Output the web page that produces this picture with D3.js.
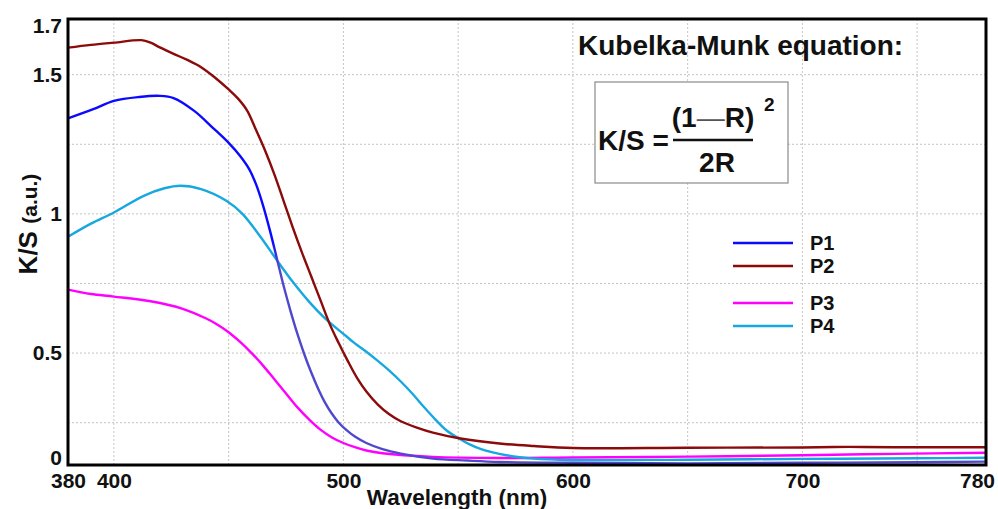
<!DOCTYPE html>
<html>
<head>
<meta charset="utf-8">
<script src="https://cdn.jsdelivr.net/npm/d3@7"></script>
<style>
  html, body { margin: 0; padding: 0; background: #fff; }
  svg { display: block; font-family: "Liberation Sans", Arial, sans-serif; }
</style>
</head>
<body>
<svg id="chart" width="998" height="509"></svg>
<script>
// ---------------- data ----------------
const seriesNames = ["P1", "P2", "P3", "P4"];
const seriesColors = ["#0a0aff", "#8b0a0a", "#ff00ff", "#17a8e0"];

const p1 = [[380,1.343],[391,1.376],[400,1.406],[411,1.420],[420,1.424],[426,1.416],[435,1.370],[443,1.310],[450,1.255],[455,1.208],[459,1.160],[462,1.105],[465,1.030],[468,0.940],[471,0.840],[474,0.740],[477,0.650],[480,0.568],[483,0.495],[486,0.430],[489,0.372],[492,0.322],[495,0.282],[498,0.250],[501,0.226],[505,0.200],[510,0.177],[517,0.155],[525,0.139],[539,0.121],[554,0.114],[568,0.109],[600,0.106],[650,0.104],[700,0.106],[750,0.108],[780,0.110]];
const p2 = [[380,1.597],[390,1.607],[400,1.615],[412,1.624],[416,1.615],[420,1.598],[426,1.575],[432,1.553],[438,1.527],[444,1.490],[450,1.447],[454,1.415],[458,1.372],[462,1.300],[466,1.225],[470,1.140],[474,1.045],[478,0.950],[482,0.860],[486,0.775],[490,0.690],[494,0.605],[498,0.535],[502,0.470],[506,0.410],[510,0.362],[515,0.315],[520,0.280],[525,0.255],[532,0.232],[539,0.214],[551,0.193],[568,0.175],[583,0.166],[600,0.159],[650,0.160],[700,0.161],[720,0.163],[740,0.162],[780,0.162]];
const p3 = [[380,0.728],[390,0.712],[400,0.703],[416,0.686],[430,0.659],[440,0.625],[445,0.603],[450,0.575],[455,0.540],[460,0.500],[465,0.455],[470,0.405],[475,0.355],[480,0.305],[485,0.262],[490,0.225],[495,0.197],[500,0.177],[505,0.162],[510,0.150],[517,0.140],[539,0.127],[568,0.123],[600,0.125],[650,0.128],[700,0.133],[740,0.138],[780,0.142]];
const p4 = [[380,0.918],[390,0.965],[400,1.005],[413,1.065],[422,1.092],[429,1.101],[438,1.089],[449,1.047],[456,1.000],[464,0.916],[471,0.834],[478,0.755],[485,0.685],[492,0.625],[500,0.569],[505,0.535],[510,0.505],[515,0.472],[520,0.437],[525,0.398],[530,0.355],[535,0.307],[540,0.262],[545,0.222],[550,0.195],[555,0.172],[560,0.155],[571,0.133],[583,0.121],[600,0.116],[650,0.117],[700,0.120],[750,0.122],[780,0.124]];
const seriesValues = [p1, p2, p3, p4];

const xTicks = [380, 400, 500, 600, 700, 780];
const xGrid = [400, 450, 500, 550, 600, 650, 700, 750];
const yTicks = [0.1, 0.5, 1, 1.5, 1.7];
const yTickLabels = ["0", "0.5", "1", "1.5", "1.7"];
const yGrid = [0.25, 0.5, 0.75, 1, 1.25, 1.5];
const xDomain = [380, 780];
const yDomain = [0.098, 1.7];

// ---------------- layout ----------------
const W = 998, H = 509;
const margin = {left: 68, right: 12, top: 19, bottom: 44};
const svg = d3.select("#chart");
const x = d3.scaleLinear().domain(xDomain).range([margin.left, W - margin.right]);
const y = d3.scaleLinear().domain(yDomain).range([H - margin.bottom, margin.top]);

// gradient for P1 (blue turning slate-blue in its lower part)
const defs = svg.append("defs");
const grad = defs.append("linearGradient").attr("id", "p1grad")
  .attr("gradientUnits", "userSpaceOnUse")
  .attr("x1", 0).attr("x2", 0).attr("y1", y(0.9)).attr("y2", y(0.82));
grad.append("stop").attr("offset", 0).attr("stop-color", "#0a0aff");
grad.append("stop").attr("offset", 1).attr("stop-color", "#5048cc");

// grid
const grid = svg.append("g").attr("stroke", "#c4c4c4").attr("stroke-width", 1).attr("stroke-dasharray", "2,2");
grid.selectAll("line.v").data(xGrid).join("line")
  .attr("x1", d => x(d)).attr("x2", d => x(d))
  .attr("y1", y.range()[0]).attr("y2", y.range()[1]);
grid.selectAll("line.h").data(yGrid).join("line")
  .attr("y1", d => y(d)).attr("y2", d => y(d))
  .attr("x1", x.range()[0]).attr("x2", x.range()[1]);

// formula box & text
svg.append("rect").attr("x", 595).attr("y", 82).attr("width", 193).attr("height", 101)
  .attr("fill", "#fff").attr("stroke", "#8a8a8a").attr("stroke-width", 1.2);
svg.append("text").attr("x", 578).attr("y", 55)
  .attr("font-size", 28).attr("font-weight", "bold").attr("fill", "#111")
  .text("Kubelka-Munk equation:");
svg.append("text").attr("x", 598).attr("y", 150)
  .attr("font-size", 28).attr("font-weight", "bold").attr("fill", "#111")
  .text("K/S =");
const num = svg.append("text").attr("x", 713).attr("y", 127).attr("text-anchor", "middle")
  .attr("font-size", 28).attr("font-weight", "bold").attr("fill", "#111");
num.append("tspan").text("(1");
num.append("tspan").attr("font-weight", "normal").attr("fill", "#555").text("—");
num.append("tspan").text("R)");
svg.append("text").attr("x", 764).attr("y", 111)
  .attr("font-size", 19).attr("font-weight", "bold").attr("fill", "#111").text("2");
svg.append("line").attr("x1", 673).attr("x2", 753).attr("y1", 140).attr("y2", 140)
  .attr("stroke", "#111").attr("stroke-width", 2.4);
svg.append("text").attr("x", 717).attr("y", 172).attr("text-anchor", "middle")
  .attr("font-size", 28).attr("font-weight", "bold").attr("fill", "#111").text("2R");

// lines
const line = d3.line().x(d => x(d[0])).y(d => y(d[1])).curve(d3.curveCatmullRom.alpha(0.5));
const drawOrder = [2, 3, 0, 1];
svg.append("g").selectAll("path").data(drawOrder).join("path")
  .attr("d", i => line(seriesValues[i]))
  .attr("fill", "none")
  .attr("stroke", i => i === 0 ? "url(#p1grad)" : seriesColors[i])
  .attr("stroke-width", 2.4)
  .attr("stroke-linejoin", "round");

// legend
const legendY = [243, 266, 303, 326];
const lg = svg.append("g");
seriesNames.forEach((n, i) => {
  lg.append("line").attr("x1", 733).attr("x2", 793).attr("y1", legendY[i]).attr("y2", legendY[i])
    .attr("stroke", seriesColors[i]).attr("stroke-width", 2.6);
  lg.append("text").attr("x", 810).attr("y", legendY[i] + 7)
    .attr("font-size", 20).attr("font-weight", "bold").attr("fill", "#111").text(n);
});

// frame
svg.append("rect").attr("x", x.range()[0]).attr("y", y.range()[1])
  .attr("width", x.range()[1] - x.range()[0]).attr("height", y.range()[0] - y.range()[1])
  .attr("fill", "none").attr("stroke", "#000").attr("stroke-width", 3);

// axes (labels only, via d3 axes)
const xAxis = d3.axisBottom(x).tickValues(xTicks).tickSize(0).tickPadding(8).tickFormat(d3.format("d"));
const gx = svg.append("g").attr("transform", `translate(0,${y.range()[0]})`).call(xAxis);
gx.select(".domain").remove();
gx.selectAll("text").attr("font-size", 21).attr("font-weight", "bold").attr("fill", "#111")
  .attr("font-family", "Liberation Sans, Arial, sans-serif")
  .attr("x", d => Math.min(x(d), W - 21) - x(d));

const yAxis = d3.axisLeft(y).tickValues(yTicks).tickSize(0).tickPadding(6)
  .tickFormat((d, i) => yTickLabels[i]);
const gy = svg.append("g").attr("transform", `translate(${x.range()[0]},0)`).call(yAxis);
gy.select(".domain").remove();
gy.selectAll("text").attr("font-size", 21).attr("font-weight", "bold").attr("fill", "#111")
  .attr("font-family", "Liberation Sans, Arial, sans-serif")
  .attr("y", d => {
    const yy = Math.max(y.range()[1] + 7, Math.min(y.range()[0] - 7, y(d)));
    return yy - y(d);
  });

// axis titles
svg.append("text").attr("x", 457).attr("y", 505).attr("text-anchor", "middle")
  .attr("font-size", 22.5).attr("font-weight", "bold").attr("fill", "#111").text("Wavelength (nm)");
const yt = svg.append("text").attr("transform", "translate(37,224) rotate(-90)")
  .attr("text-anchor", "middle").attr("fill", "#111").attr("font-weight", "bold");
yt.append("tspan").attr("font-size", 26).text("K/S ");
yt.append("tspan").attr("font-size", 21).text("(a.u.)");
</script>
</body>
</html>
